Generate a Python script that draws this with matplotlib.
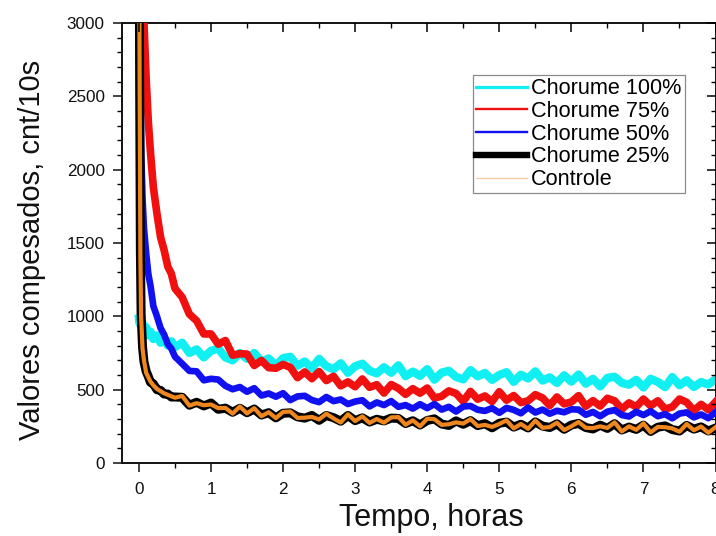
import matplotlib
matplotlib.use("Agg")
import matplotlib.pyplot as plt
from matplotlib.lines import Line2D
from matplotlib.ticker import MultipleLocator

plt.rcParams['font.family'] = ['Liberation Sans', 'DejaVu Sans']

# time, hours
t = [0.0, 0.01, 0.02, 0.03, 0.05, 0.07, 0.1, 0.13, 0.16, 0.2, 0.25, 0.3, 0.35, 0.4, 0.45, 0.5,
     0.6, 0.7, 0.8, 0.9, 1.0, 1.1, 1.2, 1.3, 1.4, 1.5, 1.6, 1.7, 1.8, 1.9, 2.0,
     2.1, 2.2, 2.3, 2.4, 2.5, 2.6, 2.7, 2.8, 2.9, 3.0, 3.1, 3.2, 3.3, 3.4, 3.5,
     3.6, 3.7, 3.8, 3.9, 4.0, 4.1, 4.2, 4.3, 4.4, 4.5, 4.6, 4.7, 4.8, 4.9, 5.0,
     5.1, 5.2, 5.3, 5.4, 5.5, 5.6, 5.7, 5.8, 5.9, 6.0, 6.1, 6.2, 6.3, 6.4, 6.5,
     6.6, 6.7, 6.8, 6.9, 7.0, 7.1, 7.2, 7.3, 7.4, 7.5, 7.6, 7.7, 7.8, 7.9, 8.0]

chorume_100 = [985, 950, 975, 930, 955, 905, 925, 870, 895, 845, 870, 820, 850, 800, 830, 790,
               820, 750, 775, 720, 765, 780, 720, 700, 750, 710, 750, 692, 713, 664, 715,
               724, 663, 692, 646, 710, 660, 640, 680, 615, 660, 677, 629, 611, 653, 615,
               666, 592, 623, 594, 640, 568, 616, 629, 587, 570, 633, 591, 614, 567, 600,
               619, 553, 602, 576, 625, 562, 584, 546, 598, 555, 603, 541, 574, 522, 580,
               588, 546, 534, 567, 515, 574, 553, 517, 586, 530, 564, 518, 552, 536, 570]

chorume_75 = [4600, 4400, 4200, 3900, 3400, 3000, 2620, 2330, 2120, 1880, 1700, 1540, 1450, 1340, 1290, 1190,
              1130, 1015, 970, 880, 880, 810, 835, 735, 745, 743, 665, 699, 650, 646, 672,
              652, 582, 621, 575, 623, 562, 591, 526, 553, 520, 573, 516, 534, 477, 535,
              509, 468, 507, 476, 511, 443, 455, 492, 474, 421, 488, 435, 457, 419, 486,
              428, 460, 412, 424, 466, 444, 392, 450, 403, 416, 459, 387, 425, 388, 441,
              424, 367, 410, 383, 436, 390, 424, 368, 382, 436, 414, 357, 400, 363, 416]

chorume_50 = [4200, 3300, 2600, 2150, 1800, 1600, 1430, 1290, 1210, 1070, 1000, 920, 875, 810, 780, 725,
              677, 628, 625, 564, 574, 569, 526, 503, 518, 486, 510, 460, 474, 452, 476,
              429, 454, 458, 429, 415, 450, 422, 433, 402, 419, 428, 386, 413, 395, 422,
              383, 395, 371, 401, 374, 402, 364, 383, 351, 385, 389, 363, 355, 374, 342,
              376, 362, 339, 379, 344, 364, 336, 356, 346, 366, 364, 329, 348, 319, 350,
              361, 327, 317, 349, 327, 353, 319, 333, 305, 337, 345, 311, 331, 306, 347]

chorume_25 = [4200, 2600, 1450, 1020, 790, 690, 625, 590, 550, 540, 500, 495, 470, 470, 450, 450,
              448, 394, 414, 389, 409, 366, 374, 346, 373, 343, 368, 327, 343, 308, 339,
              342, 315, 306, 324, 291, 324, 309, 285, 324, 289, 308, 279, 298, 287, 306,
              304, 269, 288, 259, 290, 301, 266, 256, 287, 264, 289, 255, 268, 240, 271,
              279, 245, 264, 239, 280, 252, 242, 267, 230, 259, 270, 242, 232, 258, 236,
              268, 225, 245, 229, 258, 215, 244, 253, 228, 218, 256, 231, 246, 218, 238]

controle = [4100, 2550, 1420, 1000, 780, 700, 615, 585, 555, 530, 505, 490, 475, 465, 455, 445,
            457, 391, 408, 394, 399, 374, 376, 337, 385, 338, 374, 319, 346, 306, 348,
            351, 307, 309, 314, 297, 336, 304, 276, 332, 286, 318, 273, 300, 275, 311,
            313, 261, 291, 250, 302, 299, 260, 264, 277, 269, 299, 252, 260, 246, 266,
            291, 236, 266, 233, 289, 240, 245, 275, 225, 250, 280, 240, 238, 250, 239,
            277, 215, 250, 226, 270, 209, 246, 244, 236, 213, 266, 223, 249, 206, 244]

labels = ["Chorume 100%", "Chorume 75%", "Chorume 50%", "Chorume 25%", "Controle"]
x_ticks = [0, 1, 2, 3, 4, 5, 6, 7, 8]
y_ticks = [0, 500, 1000, 1500, 2000, 2500, 3000]

c_cyan = '#10F0F2'
c_red = '#F01010'
c_blue = '#1010F0'
c_black = '#000000'
c_orange = '#F0871E'

fig = plt.figure(figsize=(7.16, 5.36), dpi=100)
ax = fig.add_axes([122/716, 1 - 463/536, 593.5/716, 440/536])

ax.plot(t, chorume_100, color=c_cyan, lw=6.0, zorder=2)
ax.plot(t, chorume_75, color=c_red, lw=5.5, zorder=3)
ax.plot(t, chorume_50, color=c_blue, lw=4.8, zorder=4)
ax.plot(t, chorume_25, color=c_black, lw=6.5, zorder=5)
ax.plot(t, controle, color=c_orange, lw=3.0, zorder=6)

ax.set_xlim(-0.235, 8.0)
ax.set_ylim(0, 3000)
ax.set_xticks(x_ticks)
ax.set_yticks(y_ticks)
ax.xaxis.set_minor_locator(MultipleLocator(0.5))
ax.yaxis.set_minor_locator(MultipleLocator(100))

for s in ax.spines.values():
    s.set_linewidth(1.4)
    s.set_color('#111111')

ax.tick_params(which='major', direction='out', length=6.5, width=1.1, labelsize=12.3,
               pad=6, colors='#111111', top=False, right=False)
ax.tick_params(which='minor', direction='out', length=3.6, width=1.0, top=False, right=False)
ax.tick_params(axis='x', which='major', pad=7)

# inward ticks on top and right
axt = ax.twiny()
axt.set_xlim(ax.get_xlim())
axt.set_xticks(x_ticks)
axt.xaxis.set_minor_locator(MultipleLocator(0.5))
axt.tick_params(which='major', direction='in', length=6.5, width=1.1, labeltop=False)
axt.tick_params(which='minor', direction='in', length=3.6, width=1.0)
axr = ax.twinx()
axr.set_ylim(ax.get_ylim())
axr.set_yticks(y_ticks)
axr.yaxis.set_minor_locator(MultipleLocator(100))
axr.tick_params(which='major', direction='in', length=6.5, width=1.1, labelright=False)
axr.tick_params(which='minor', direction='in', length=3.6, width=1.0)
for a in (axt, axr):
    for s in a.spines.values():
        s.set_visible(False)

ax.set_xlabel("Tempo, horas", fontsize=22, color='#111111')
ax.set_ylabel("Valores compesados, cnt/10s", fontsize=21, color='#111111')
ax.xaxis.set_label_coords(0.5206, -0.092)
ax.yaxis.set_label_coords(-0.128, 0.484)

handles = [
    Line2D([], [], color=c_cyan, lw=2.3),
    Line2D([], [], color=c_red, lw=1.7),
    Line2D([], [], color=c_blue, lw=1.7),
    Line2D([], [], color=c_black, lw=4.6),
    Line2D([], [], color='#F2C8A2', lw=0.9),
]
leg = axr.legend(handles, labels, loc='upper right', bbox_to_anchor=(0.9486, 0.882),
                 borderaxespad=0, fontsize=15.6, frameon=True, fancybox=False,
                 framealpha=1, edgecolor='#8a8a8a', handlelength=2.35,
                 handletextpad=0.2, labelspacing=0.08, borderpad=0.15)
leg.get_frame().set_linewidth(0.9)
leg.set_zorder(10)

fig.savefig("out.png", dpi=100)
